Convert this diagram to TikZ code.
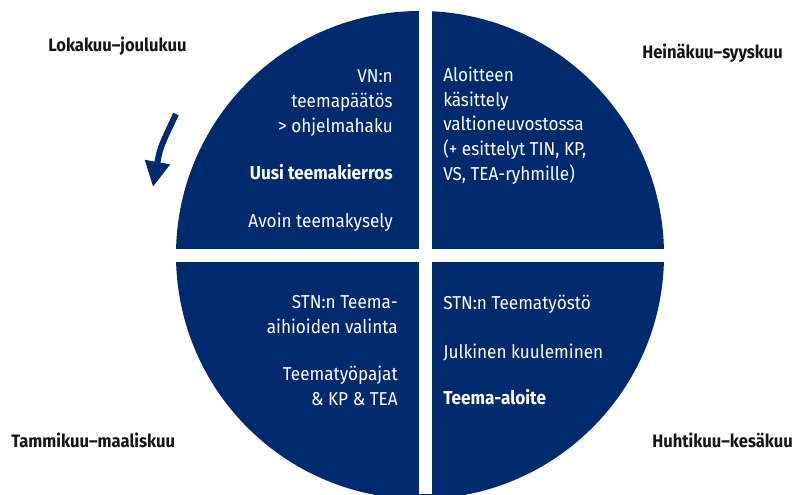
\documentclass[tikz,border=0pt]{standalone}
\usepackage{fontspec}
\setmainfont{Fira Sans}[FakeStretch=0.92]
\usetikzlibrary{arrows.meta}
\definecolor{navy}{RGB}{0,42,110}
\definecolor{ink}{RGB}{20,20,20}
\tikzstyle{qtext}=[text=white, inner sep=0, font=\fontsize{14}{18.4}\selectfont]
\tikzstyle{qbold}=[qtext, font=\fontsize{14}{18.4}\selectfont\bfseries]
\tikzstyle{month}=[text=ink, inner sep=0, anchor=base west, font=\fontsize{13.5}{16}\selectfont\bfseries]
\tikzstyle{turnarrow}=[navy, line width=4.5pt, -{Triangle[length=19pt, width=18pt]}]
\newcommand{\drawyeardisc}{
  \fill[navy] (420,255) circle[radius=244];
  \fill[white] (419,0) rectangle (432,494);
  \fill[white] (170,249) rectangle (670,262);
}

\begin{document}
\begin{tikzpicture}[x=0.75pt, y=-0.75pt]
  \useasboundingbox (0,0) rectangle (793,494);
  \begin{scope}
    \clip (0,0) rectangle (793,494);
    \drawyeardisc
  \end{scope}
  % top left quarter
  \node[qtext, anchor=base east, align=right] (vnn) at (393,132) {VN:n\\teemapäätös\\> ohjelmahaku};
  \node[qbold, anchor=base east] (uusi) at (393,179) {Uusi teemakierros};
  \node[qtext, anchor=base east] (avoin) at (393,227) {Avoin teemakysely};
  % top right quarter
  \node[qtext, anchor=base west, align=left] (aloite) at (443,180) {Aloitteen\\käsittely\\valtioneuvostossa\\(+ esittelyt TIN, KP,\\VS, TEA-ryhmille)};
  % bottom left quarter
  \node[qtext, anchor=base east, align=right] (stnvalinta) at (398,333) {STN:n Teema-\\aihioiden valinta};
  \node[qtext, anchor=base east, align=right] (pajat) at (398,405) {Teematyöpajat\\\& KP \& TEA};
  % bottom right quarter
  \node[qtext, anchor=base west] (stntyo) at (443,309) {STN:n Teematyöstö};
  \node[qtext, anchor=base west] (kuule) at (443,358) {Julkinen kuuleminen};
  \node[qbold, anchor=base west] (teemaal) at (443,404) {Teema-aloite};
  % months
  \node[month] (lokakuu) at (48,51) {Lokakuu--joulukuu};
  \node[month] (heinakuu) at (642,58) {Heinäkuu--syyskuu};
  \node[month] (tammikuu) at (11,447) {Tammikuu--maaliskuu};
  \node[month] (huhtikuu) at (652,447) {Huhtikuu--kesäkuu};
  % direction of the year
  \coordinate (turnA) at (176,114);
  \coordinate (turnB) at (153,187);
  \draw[turnarrow] (turnA) .. controls (160,148) .. (turnB);
\end{tikzpicture}
\end{document}
